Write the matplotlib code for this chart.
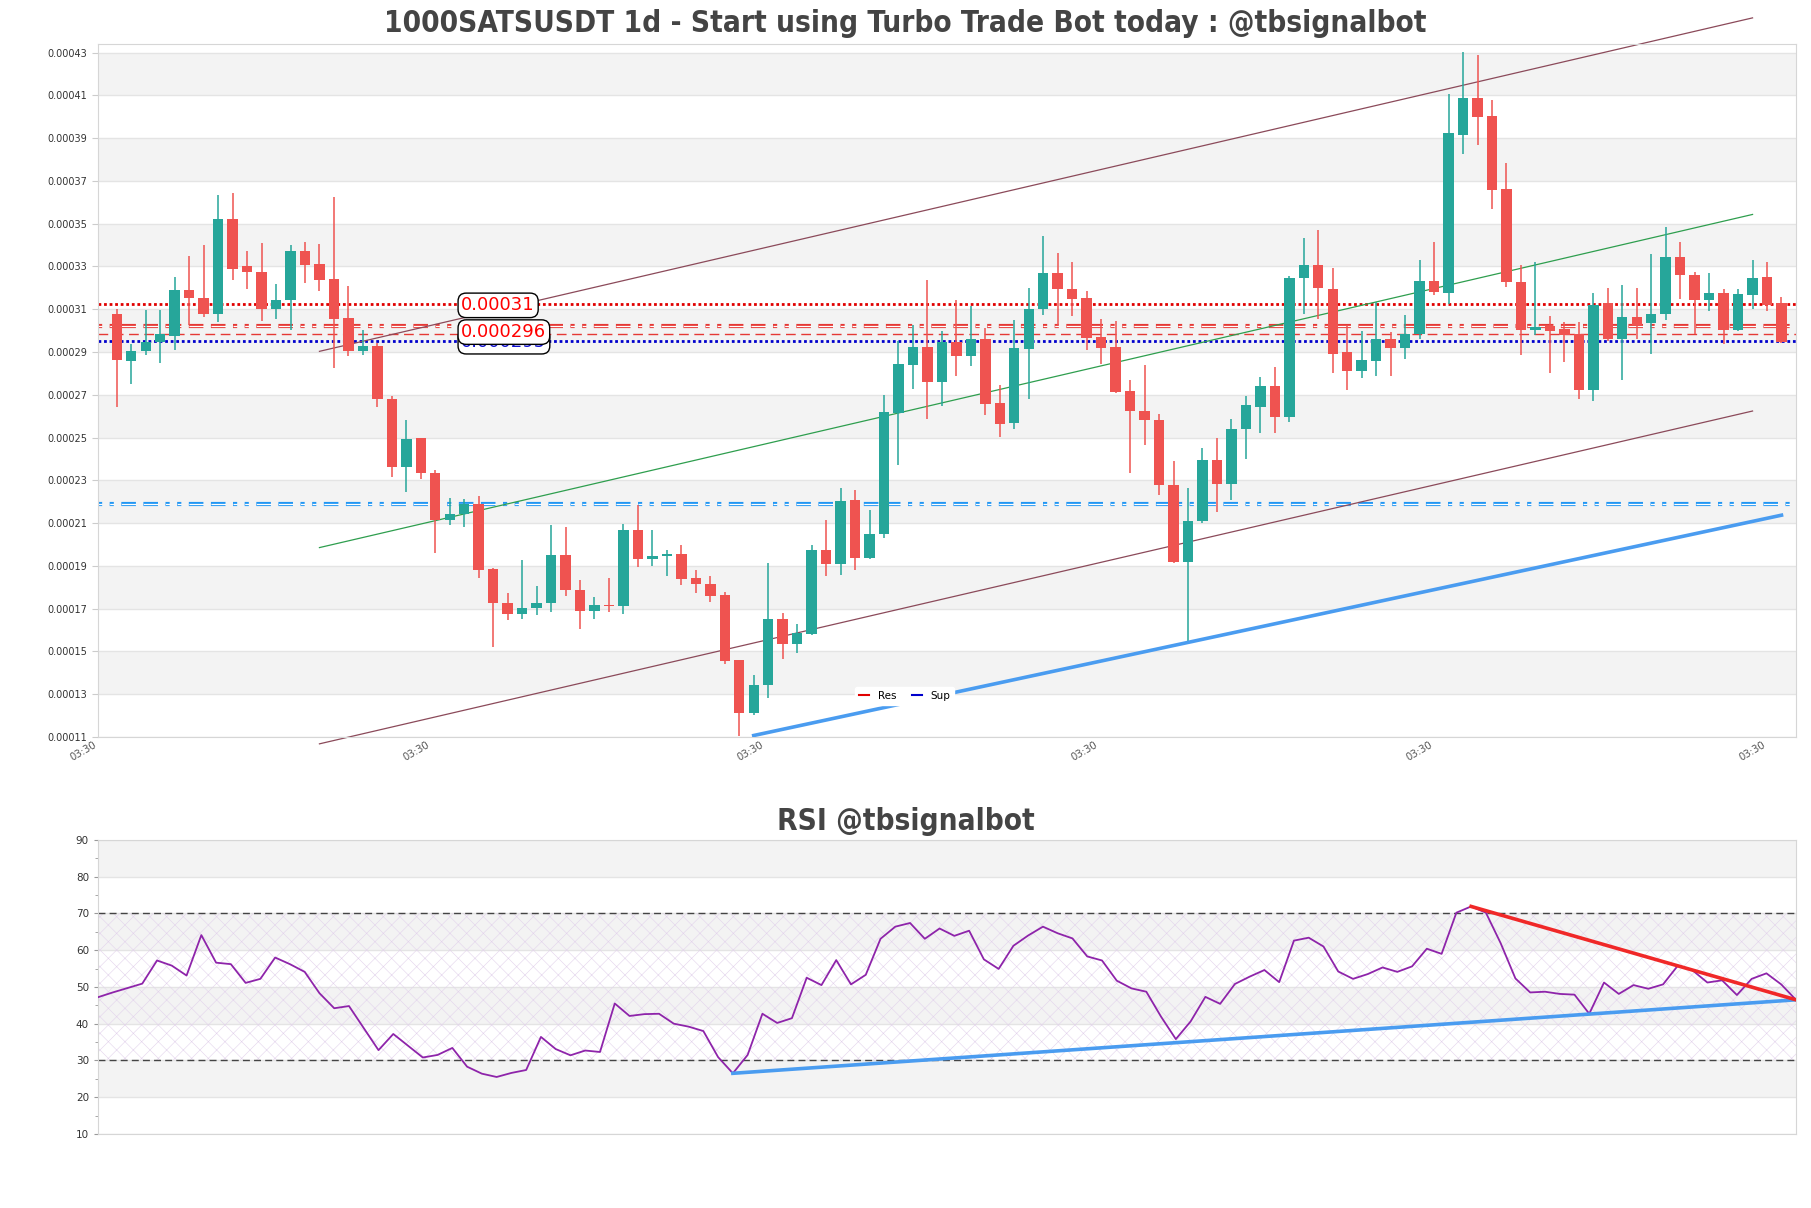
import matplotlib
matplotlib.use('Agg')
import matplotlib.pyplot as plt
from matplotlib.lines import Line2D
import numpy as np

# candle data, in units of 1e-5 USDT
opens = [30.77, 28.60, 29.03, 29.48, 29.76, 31.91, 31.54, 30.79, 35.21, 33.00,
         32.74, 31.03, 31.41, 33.71, 33.11, 32.42, 30.60, 29.05, 29.27, 26.80,
         23.64, 24.97, 23.34, 21.15, 21.41, 21.91, 18.84, 17.25, 16.76, 17.01,
         17.25, 19.50, 17.87, 16.91, 17.18, 17.14, 20.68, 19.31, 19.44, 19.57,
         18.43, 18.17, 17.64, 14.61, 12.10, 13.41, 16.54, 15.36, 15.83, 19.72,
         19.07, 22.08, 19.39, 20.47, 26.16, 28.41, 29.22, 27.61, 29.48, 28.82,
         29.63, 26.61, 25.66, 29.14, 31.03, 32.70, 31.95, 31.52, 29.70, 29.22,
         27.18, 26.24, 25.81, 22.79, 19.18, 21.09, 23.94, 22.81, 25.38, 26.45,
         27.40, 25.98, 32.46, 33.06, 31.95, 29.01, 28.13, 28.60, 29.61, 29.20,
         29.85, 32.31, 31.78, 39.16, 40.88, 40.02, 36.63, 32.27, 30.04, 30.21,
         30.06, 29.82, 27.21, 31.28, 29.59, 30.62, 30.34, 30.77, 33.43, 32.59,
         31.41, 31.76, 30.02, 31.67, 32.51, 31.28]
highs = [31.03, 29.37, 30.96, 30.96, 32.51, 33.49, 34.01, 36.33, 36.43, 33.71,
         34.09, 32.18, 34.01, 34.14, 34.05, 36.24, 32.08, 30.02, 29.40, 26.93,
         25.81, 24.97, 23.47, 22.18, 22.12, 22.27, 18.90, 17.74, 19.29, 18.04,
         20.90, 20.83, 18.36, 17.55, 18.43, 20.96, 21.84, 20.68, 19.72, 19.97,
         18.79, 18.52, 17.79, 14.61, 13.88, 19.14, 16.80, 16.26, 19.97, 21.15,
         22.66, 22.57, 21.61, 26.99, 29.50, 30.27, 32.38, 29.97, 31.45, 31.13,
         30.10, 27.46, 30.49, 31.99, 34.42, 33.64, 33.21, 31.84, 30.53, 30.45,
         27.70, 28.39, 26.09, 23.92, 22.66, 24.52, 24.97, 25.88, 26.95, 27.85,
         28.30, 32.53, 34.31, 34.70, 32.91, 30.27, 29.97, 31.35, 29.93, 30.75,
         33.28, 34.16, 41.07, 43.04, 42.87, 40.77, 37.83, 33.06, 33.19, 30.70,
         30.38, 30.40, 31.76, 31.99, 32.12, 31.99, 33.56, 34.85, 34.12, 32.74,
         32.70, 31.93, 31.93, 33.28, 33.21, 31.56]
lows = [26.45, 27.48, 28.86, 28.49, 29.09, 30.27, 30.62, 30.40, 32.38, 31.93,
        30.47, 30.55, 30.04, 32.21, 31.86, 28.24, 28.79, 28.84, 26.45, 23.17,
        22.44, 23.04, 19.59, 20.92, 20.83, 18.45, 15.19, 16.48, 16.50, 16.69,
        16.86, 17.61, 16.05, 16.50, 16.86, 16.76, 18.94, 18.99, 18.52, 18.09,
        17.72, 17.33, 14.39, 11.07, 12.01, 12.81, 14.67, 14.93, 15.79, 18.54,
        18.58, 18.79, 19.33, 20.30, 23.73, 27.27, 25.88, 26.48, 27.89, 28.34,
        26.05, 25.02, 25.42, 26.82, 30.75, 30.27, 30.70, 29.07, 28.43, 27.06,
        23.34, 24.65, 22.33, 19.12, 15.47, 21.00, 21.52, 22.08, 24.00, 25.19,
        25.23, 25.73, 30.77, 30.55, 28.00, 27.21, 27.79, 27.89, 27.89, 28.69,
        29.59, 31.65, 31.22, 38.26, 38.69, 35.70, 32.03, 28.88, 29.78, 28.00,
        28.51, 26.82, 26.69, 29.52, 27.70, 29.59, 28.92, 30.49, 31.50, 29.82,
        30.92, 29.37, 30.00, 31.03, 30.92, 29.42]
closes = [28.64, 29.03, 29.48, 29.82, 31.91, 31.54, 30.79, 35.21, 32.89, 32.72,
          31.03, 31.43, 33.71, 33.09, 32.38, 30.55, 29.05, 29.27, 26.78, 23.64,
          24.91, 23.32, 21.15, 21.43, 21.91, 18.79, 17.25, 16.76, 17.01, 17.27,
          19.50, 17.85, 16.91, 17.18, 17.12, 20.68, 19.31, 19.44, 19.57, 18.41,
          18.17, 17.61, 14.57, 12.10, 13.41, 16.50, 15.36, 15.85, 19.72, 19.07,
          22.03, 19.39, 20.49, 26.20, 28.43, 29.22, 27.61, 29.48, 28.82, 29.63,
          26.58, 25.62, 29.18, 31.03, 32.70, 31.93, 31.50, 29.67, 29.20, 27.12,
          26.22, 25.81, 22.76, 19.18, 21.09, 23.94, 22.81, 25.40, 26.52, 27.40,
          25.98, 32.46, 33.06, 31.97, 28.92, 28.13, 28.62, 29.61, 29.20, 29.85,
          32.31, 31.82, 39.22, 40.88, 40.00, 36.58, 32.25, 30.04, 30.19, 30.00,
          29.80, 27.21, 31.18, 29.59, 30.64, 30.27, 30.77, 33.43, 32.61, 31.41,
          31.76, 30.02, 31.71, 32.46, 31.20, 29.46]

rsi = [47.2, 48.5, 49.7, 50.9, 57.2, 55.8, 53.1, 64.1, 56.6, 56.2,
       51.1, 52.2, 58.0, 56.2, 54.1, 48.3, 44.2, 44.8, 38.8, 32.8,
       37.2, 34.0, 30.8, 31.5, 33.4, 28.3, 26.4, 25.5, 26.6, 27.4,
       36.4, 33.1, 31.4, 32.7, 32.3, 45.5, 42.1, 42.6, 42.7, 40.0,
       39.2, 38.0, 30.9, 26.5, 31.5, 42.7, 40.2, 41.5, 52.5, 50.5,
       57.3, 50.7, 53.3, 63.1, 66.4, 67.4, 63.1, 65.9, 63.9, 65.3,
       57.5, 54.9, 61.2, 64.0, 66.4, 64.6, 63.2, 58.3, 57.2, 51.7,
       49.6, 48.7, 41.9, 35.8, 40.6, 47.3, 45.4, 50.8, 52.8, 54.6,
       51.3, 62.6, 63.4, 61.0, 54.2, 52.2, 53.5, 55.3, 54.1, 55.6,
       60.4, 59.0, 70.2, 71.9, 70.2, 61.9, 52.3, 48.5, 48.7, 48.1,
       47.9, 42.7, 51.2, 48.1, 50.5, 49.5, 50.7, 55.8, 54.5, 51.2,
       51.8, 47.8, 52.2, 53.7, 50.7, 46.5]

# levels (USDT)
res_dotted = 0.0003122
res_zone = 0.0003022
res_dashed = 0.0002982
sup_dotted = 0.000295
sup_zone = 0.0002191
level_labels = ['0.000295', '0.00031', '0.000296']
label_y = [0.0002948, 0.0003118, 0.0002993]
label_colors = ['#1010d0', 'red', 'red']

# trend lines
chan_x = [14, 113]
chan_lower = [0.0001068, 0.0002624]
chan_upper = [0.0002903, 0.0004462]
sup_line = [44, 0.0001107, 115, 0.0002137]
rsi_sup = [43, 26.5, 115, 46.5]
rsi_res = [93, 71.9, 115, 46.5]

tick_pos = [-1.3, 21.7, 44.8, 67.9, 91.0, 114.0]
tick_lab = ['03:30'] * 6

UP = '#26a69a'
DN = '#ef5350'
BAND = '#f3f3f3'
GRID = '#e4e4e4'
ZONE_DASH = (1, 1.8, 1, 1.8, 3.5, 1.8, 3.5, 1.8)

o = np.array(opens) * 1e-5
h = np.array(highs) * 1e-5
l = np.array(lows) * 1e-5
c = np.array(closes) * 1e-5
x = np.arange(len(o))

plt.rcParams['hatch.linewidth'] = 0.4

fig = plt.figure(figsize=(18.11, 12.08), dpi=100)
ax = fig.add_axes([0.0541, 0.3899, 0.9376, 0.5737])
ax2 = fig.add_axes([0.0541, 0.0613, 0.9376, 0.2434])

fig.text(0.5, 1 - 24 / 1208, '1000SATSUSDT 1d - Start using Turbo Trade Bot today : @tbsignalbot',
         ha='center', va='center', fontsize=21.3, fontweight='bold', color='#444444',
         fontstretch='condensed')
fig.text(0.5, 1 - 821 / 1208, 'RSI @tbsignalbot', ha='center', va='center',
         fontsize=21.3, fontweight='bold', color='#444444', fontstretch='condensed')


def zone(axis, y, color):
    axis.axhline(y, color=color, lw=3, dashes=ZONE_DASH, zorder=2)
    axis.axhline(y, color='white', lw=0.9, dashes=[d * 3 / 0.9 for d in ZONE_DASH], zorder=2.1)


# ---- price panel
yt = np.arange(11, 44, 2) * 1e-5
for k in range(len(yt) - 1):
    if k % 2 == 1:
        ax.axhspan(yt[k], yt[k + 1], color=BAND, zorder=0, lw=0)
for v in yt:
    ax.axhline(v, color=GRID, lw=1, zorder=0.5)

cols = [UP if c[i] >= o[i] else DN for i in x]
ax.vlines(x, l, h, colors=cols, lw=1.1, zorder=3)
body = np.maximum(np.abs(c - o), 0.04e-5)
ax.bar(x, body, bottom=np.minimum(o, c), width=0.72, color=cols, zorder=4, lw=0)

ax.axhline(res_dotted, color='#e00000', lw=2, ls=(0, (1, 1)), zorder=2)
zone(ax, res_zone, '#e53935')
ax.axhline(res_dashed, color='#e53935', lw=1, dashes=(7, 4), zorder=2)
ax.axhline(sup_dotted, color='#0000cc', lw=2, ls=(0, (1, 1)), zorder=2)
zone(ax, sup_zone, '#2196f3')

for t, yy, cc in zip(level_labels, label_y, label_colors):
    ax.text(23.8, yy, t, color=cc, fontsize=13, ha='left', va='center', zorder=6,
            bbox=dict(boxstyle='round,pad=0.18,rounding_size=0.45', fc='white', ec='black', lw=1))

mid = [(a + b) / 2 for a, b in zip(chan_lower, chan_upper)]
ax.plot(chan_x, chan_upper, color='#8b4a5a', lw=0.9, zorder=2.5, clip_on=False)
ax.plot(chan_x, chan_lower, color='#8b4a5a', lw=0.9, zorder=2.5, clip_on=False)
ax.plot(chan_x, mid, color='#2e9e4e', lw=0.9, zorder=2.5)
ax.plot([sup_line[0], sup_line[2]], [sup_line[1], sup_line[3]], color='#4a9cf0', lw=2.6, zorder=5)

handles = [Line2D([], [], color='#e00000', lw=1.5), Line2D([], [], color='#0000cc', lw=1.5)]
lg = ax.legend(handles, ['Res', 'Sup'], loc='center', bbox_to_anchor=(0.475, 0.059), ncol=2,
               fontsize=7.5, frameon=True, handlelength=1.0, columnspacing=1.5, borderpad=0.4)
lg.get_frame().set_edgecolor('white')
lg.get_frame().set_alpha(1)
lg.set_zorder(7)

ax.set_xlim(-1, len(x))
ax.set_ylim(0.00011, 0.000434)
ax.set_yticks(yt)
ax.set_yticklabels(['%.5f' % v for v in yt])
ax.set_xticks(tick_pos)
ax.set_xticklabels(tick_lab, rotation=30, ha='right')
ax.tick_params(axis='y', labelsize=7, colors='#cccccc', labelcolor='#333333', length=4)
ax.tick_params(axis='x', labelsize=7.3, length=0, labelcolor='#555555', pad=2)
for s in ax.spines.values():
    s.set_color('#d6d6d6')

# ---- RSI panel
rt = np.arange(10, 91, 10)
for k in range(len(rt) - 1):
    if k % 2 == 1:
        ax2.axhspan(rt[k], rt[k + 1], color=BAND, zorder=0, lw=0)
for v in rt:
    ax2.axhline(v, color=GRID, lw=1, zorder=0.5)
ax2.fill_between([0, len(rsi) - 1], 30, 70, facecolor='none', edgecolor='#e3d3ec',
                 hatch='xx', lw=0, zorder=1)
ax2.axhline(70, color='#444444', lw=1, dashes=(5, 3), zorder=2)
ax2.axhline(30, color='#444444', lw=1, dashes=(5, 3), zorder=2)
ax2.plot(np.arange(len(rsi)), rsi, color='#8e24aa', lw=1.3, zorder=3)
ax2.plot([rsi_sup[0], rsi_sup[2]], [rsi_sup[1], rsi_sup[3]], color='#4a9cf0', lw=2.6, zorder=4)
ax2.plot([rsi_res[0], rsi_res[2]], [rsi_res[1], rsi_res[3]], color='#f02828', lw=2.6, zorder=4)
ax2.set_xlim(0, len(rsi) - 1)
ax2.set_ylim(10, 90)
ax2.set_yticks(rt)
ax2.set_yticks(np.arange(15, 90, 10), minor=True)
ax2.set_xticks([])
ax2.tick_params(axis='y', labelsize=7.5, colors='#999999', labelcolor='#333333', length=3)
ax2.tick_params(axis='y', which='minor', length=2, colors='#999999')
for s in ax2.spines.values():
    s.set_color('#d6d6d6')

fig.savefig('out.png', dpi=100)
